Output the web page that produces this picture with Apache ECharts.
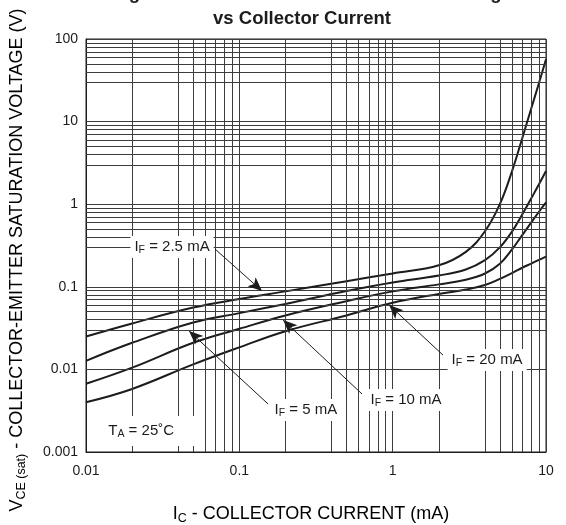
<!DOCTYPE html>
<html><head><meta charset="utf-8">
<script src="https://cdn.jsdelivr.net/npm/echarts@6/dist/echarts.min.js"></script>
<style>html,body{margin:0;padding:0;background:#fff}#c{width:566px;height:525px}</style>
</head><body><div id="c"></div>
<script>
// ---- data ----
const collectorCurrent = [0.01, 0.02, 0.05, 0.1, 0.2, 0.5, 1, 2, 3, 4, 5, 6, 7, 8, 9, 10];
const vceIF2_5 = [0.025, 0.036, 0.056, 0.071, 0.088, 0.117, 0.145, 0.182, 0.265, 0.47, 1.0, 2.5, 6.3, 14.3, 29.3, 57];
const vceIF5   = [0.0127, 0.021, 0.037, 0.048, 0.062, 0.089, 0.113, 0.137, 0.162, 0.21, 0.3, 0.466, 0.75, 1.17, 1.74, 2.52];
const vceIF10  = [0.0067, 0.0105, 0.021, 0.031, 0.045, 0.067, 0.088, 0.107, 0.122, 0.145, 0.19, 0.283, 0.423, 0.598, 0.81, 1.05];
const vceIF20  = [0.004, 0.0058, 0.0115, 0.0185, 0.029, 0.045, 0.064, 0.082, 0.0925, 0.105, 0.1245, 0.1466, 0.17, 0.191, 0.212, 0.232];
const seriesNames = ['IF = 2.5 mA', 'IF = 5 mA', 'IF = 10 mA', 'IF = 20 mA'];
const xTickLabels = ['0.01', '0.1', '1', '10'];
const yTickLabels = ['0.001', '0.01', '0.1', '1', '10', '100'];
const xDecades = [0.01, 0.1, 1];
const yDecades = [0.001, 0.01, 0.1, 1, 10];
const xMinorMult = [2, 4, 5, 6, 7, 8, 9];
const yMinorMult = [3, 4, 5, 6, 7, 8, 9];
// annotation anchors in data space: label centre, arrow start, arrow tip
const annIF = ['2.5', '5', '10', '20'];
const annLabel = [[0.0364, 0.303], [0.272, 0.00322], [1.223, 0.00426], [4.13, 0.013]];
const annFrom  = [[0.0694, 0.287], [0.154, 0.00381], [0.631, 0.00504], [2.13, 0.0149]];
const annTo    = [[0.1406, 0.089], [0.047, 0.0292], [0.193, 0.0396], [0.948, 0.0602]];
const tempLabel = [0.0229, 0.0018];

// ---- chart ----
const FONT = 'Liberation Sans, Arial, Helvetica, sans-serif';
const GRID = '#3c3c3c';
const INK = '#1c1c1c';
const chart = echarts.init(document.getElementById('c'), null, {renderer: 'canvas'});

const minorX = [], minorY = [];
xDecades.forEach(d => xMinorMult.forEach(m => minorX.push({xAxis: +(d * m).toPrecision(6)})));
yDecades.forEach(d => yMinorMult.forEach(m => minorY.push({yAxis: +(d * m).toPrecision(6)})));

const richAnn = {
  n: {fontSize: 15, fontFamily: FONT, color: INK},
  s: {fontSize: 10.5, fontFamily: FONT, color: INK, padding: [7, 0, 0, 0]}
};
const richName = {
  n: {fontSize: 18, fontFamily: FONT, color: INK},
  s: {fontSize: 12.5, fontFamily: FONT, color: INK, padding: [9, 0, 0, 0]}
};

const curves = [vceIF2_5, vceIF5, vceIF10, vceIF20].map((vals, i) => ({
  name: seriesNames[i],
  type: 'line',
  data: collectorCurrent.map((x, k) => [x, vals[k]]),
  smooth: 0.4,
  showSymbol: false,
  symbol: 'none',
  lineStyle: {color: INK, width: 2},
  z: 3,
  silent: true
}));

const annSeries = {
  type: 'line',
  data: [],
  z: 5,
  silent: true,
  markLine: {
    silent: true,
    symbol: ['none', 'arrow'],
    symbolSize: [9, 14],
    label: {show: false},
    lineStyle: {color: INK, width: 1, type: 'solid'},
    data: annFrom.map((f, i) => [{coord: f}, {coord: annTo[i]}])
  },
  markPoint: {
    silent: true,
    symbol: 'rect',
    symbolSize: 1,
    itemStyle: {color: 'rgba(0,0,0,0)'},
    label: {
      show: true, position: 'inside', backgroundColor: '#fff',
      padding: [2, 4, 2, 4], rich: richAnn
    },
    data: annLabel.map((c, i) => ({
      coord: c,
      label: {formatter: '{n|I}{s|F}{n| = ' + annIF[i] + ' mA}'}
    })).concat([{
      coord: tempLabel,
      label: {formatter: '{n|T}{s|A}{n| = 25˚C}', padding: [6, 20, 6, 20]}
    }])
  }
};

const gridSeries = {
  type: 'line',
  data: [],
  z: 1,
  silent: true,
  markLine: {
    silent: true,
    symbol: ['none', 'none'],
    label: {show: false},
    lineStyle: {color: GRID, width: 1, type: 'solid'},
    data: minorX.concat(minorY)
  }
};

chart.setOption({
  animation: false,
  backgroundColor: '#fff',
  grid: {left: 86, right: 20, top: 39, bottom: 73, show: true, borderColor: INK, borderWidth: 1, backgroundColor: 'transparent'},
  xAxis: {
    type: 'log', logBase: 10, min: 0.01, max: 10,
    axisLine: {show: true, lineStyle: {color: INK}},
    axisTick: {show: false},
    splitLine: {show: true, lineStyle: {color: GRID, width: 1}},
    axisLabel: {
      color: INK, fontSize: 14, fontFamily: FONT, margin: 12,
      formatter: v => { const i = Math.round(Math.log10(v) + 2); return xTickLabels[i] || ''; }
    }
  },
  yAxis: {
    type: 'log', logBase: 10, min: 0.001, max: 100,
    axisLine: {show: true, lineStyle: {color: INK}},
    axisTick: {show: false},
    splitLine: {show: true, lineStyle: {color: GRID, width: 1}},
    axisLabel: {
      color: INK, fontSize: 14, fontFamily: FONT, margin: 8,
      formatter: v => { const i = Math.round(Math.log10(v) + 3); return yTickLabels[i] || ''; }
    }
  },
  graphic: [
    {type: 'text', x: 312, y: 3.5, z: 10, silent: true,
     style: {text: 'Figure 8. Collector-Emitter Saturation Voltage', font: 'bold 18.5px ' + FONT, fill: INK,
             textAlign: 'center', textVerticalAlign: 'bottom', align: 'center', verticalAlign: 'bottom'}},
    {type: 'text', x: 302, y: 28, z: 10, silent: true,
     style: {text: 'vs Collector Current', font: 'bold 18.5px ' + FONT, fill: INK,
             textAlign: 'center', textVerticalAlign: 'bottom', align: 'center', verticalAlign: 'bottom'}},
    {type: 'text', x: 17, y: 260, rotation: Math.PI / 2, z: 10, silent: true,
     style: {text: '{n|V}{s|CE (sat)}{n| - COLLECTOR-EMITTER SATURATION VOLTAGE (V)}', rich: richName,
             textAlign: 'center', textVerticalAlign: 'middle', align: 'center', verticalAlign: 'middle'}},
    {type: 'text', x: 311, y: 514, z: 10, silent: true,
     style: {text: '{n|I}{s|C}{n| - COLLECTOR CURRENT (mA)}', rich: richName,
             textAlign: 'center', textVerticalAlign: 'middle', align: 'center', verticalAlign: 'middle'}}
  ],
  series: [gridSeries].concat(curves, [annSeries])
});
</script></body></html>
